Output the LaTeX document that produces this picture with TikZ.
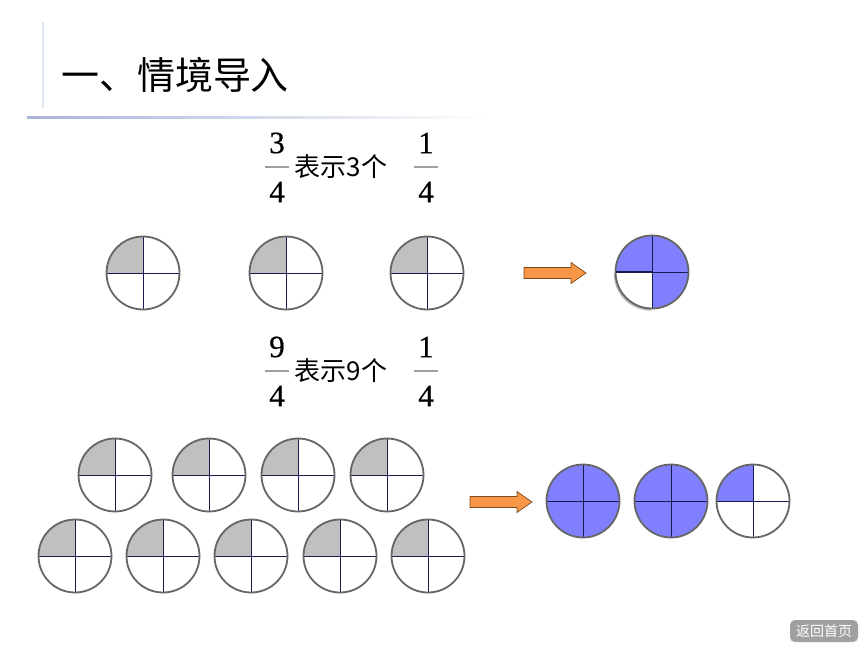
\documentclass[tikz,border=0pt]{standalone}
\usepackage{fontspec}
\setmainfont{Liberation Serif}
\newfontfamily\cjk{Noto Sans CJK SC}
\newfontfamily\digitfont[FakeBold=0.6]{Liberation Serif}
\usetikzlibrary{shadings,calc}
\definecolor{shadeq}{HTML}{C0C0C0}
\definecolor{blueq}{HTML}{8080FF}
\definecolor{rimc}{HTML}{666666}
\definecolor{crossc}{HTML}{1A1A50}
\definecolor{arrowfill}{HTML}{F79646}
\definecolor{arrowline}{HTML}{7F4A1E}
\definecolor{rulec}{HTML}{A8B4D8}
\definecolor{vrulec}{HTML}{DDE4F4}
\definecolor{btnc}{HTML}{A0A0A0}
\tikzset{
  rim/.style={draw=rimc, line width=1.8pt},
  crossline/.style={draw=crossc, line width=0.9pt},
  orangearrow/.style={fill=arrowfill, draw=arrowline, line width=0.7pt},
  cjktext/.style={font=\cjk\fontsize{26}{30}\selectfont, inner sep=0pt},
  digit/.style={font=\digitfont\fontsize{31}{34}\selectfont, inner sep=0pt},
  fracbar/.style={draw=gray!75, line width=1.1pt},
}
% #1 name, #2 center, #3 TL, #4 TR, #5 BR, #6 BL fills
\newcommand{\qcirc}[6]{%
  \coordinate (#1) at (#2);
  \fill[#3] (#1) -- ++(-36.5,0) arc[start angle=180,end angle=90,radius=36.5] -- cycle;
  \fill[#4] (#1) -- ++(0,36.5) arc[start angle=90,end angle=0,radius=36.5] -- cycle;
  \fill[#5] (#1) -- ++(36.5,0) arc[start angle=0,end angle=-90,radius=36.5] -- cycle;
  \fill[#6] (#1) -- ++(0,-36.5) arc[start angle=270,end angle=180,radius=36.5] -- cycle;
  \draw[crossline] ($(#1)+(-36.5,0)$) -- ($(#1)+(36.5,0)$);
  \draw[crossline] ($(#1)+(0,36.5)$) -- ($(#1)+(0,-36.5)$);
  \draw[rim] (#1) circle[radius=36.5];
}
\newcommand{\farrow}[4]{% #1 name, #2 x left, #3 x tip, #4 y center
  \coordinate (#1) at (#3,#4);
  \draw[orangearrow] (#2,#4+5.5) -- (#3-15,#4+5.5) -- (#3-15,#4+10.5) -- (#1)
     -- (#3-15,#4-10.5) -- (#3-15,#4-5.5) -- (#2,#4-5.5) -- cycle;
}
\newcommand{\frc}[4]{% #1 name, #2 x, #3 y of bar, #4 numerator
  \node[digit] (#1n) at (#2,#3+24) {#4};
  \node[digit] (#1d) at (#2,#3-25) {4};
  \coordinate (#1l) at (#2-12,#3);
  \coordinate (#1r) at (#2+12,#3);
  \draw[fracbar] (#1l) -- (#1r);
}
\begin{document}
\begin{tikzpicture}[x=1pt,y=1pt]
\useasboundingbox (0,0) rectangle (860,-645);
\fill[white] (0,0) rectangle (860,-645);
% decorations
\coordinate (vt) at (43,-22);
\coordinate (vb) at (43,-108);
\draw[vrulec, line width=2pt] (vt) -- (vb);
\shade[left color=rulec, right color=white] (27,-116) rectangle (490,-118.5);
% title
\node[font=\cjk\fontsize{38}{42}\selectfont, inner sep=0pt] (title) at (175,-75) {一、情境导入};
% row 1 text
\frc{fa}{277}{-167}{3}
\node[cjktext] (t1) at (341,-167) {表示3个};
\frc{fb}{426}{-167}{1}
% row 1 circles
\qcirc{c1}{143,-273}{shadeq}{white}{white}{white}
\qcirc{c2}{286,-273}{shadeq}{white}{white}{white}
\qcirc{c3}{427,-273}{shadeq}{white}{white}{white}
\farrow{a1}{524}{586}{-273}
\draw[gray!55, line width=2.5pt] (651,-273.5) ++(-36,0) arc[start angle=180,end angle=270,radius=36];
\qcirc{r1}{652,-272}{blueq}{blueq}{blueq}{white}
\draw[crossc, line width=1.6pt] (r1) -- ++(-36.5,0);
% row 2 text
\frc{fc}{277}{-371}{9}
\node[cjktext] (t2) at (341,-371) {表示9个};
\frc{fd}{426}{-371}{1}
% row 2 circles
\qcirc{d1}{115,-475}{shadeq}{white}{white}{white}
\qcirc{d2}{209,-475}{shadeq}{white}{white}{white}
\qcirc{d3}{298,-475}{shadeq}{white}{white}{white}
\qcirc{d4}{387,-475}{shadeq}{white}{white}{white}
\qcirc{e1}{75,-556}{shadeq}{white}{white}{white}
\qcirc{e2}{163,-556}{shadeq}{white}{white}{white}
\qcirc{e3}{251,-556}{shadeq}{white}{white}{white}
\qcirc{e4}{340,-556}{shadeq}{white}{white}{white}
\qcirc{e5}{428,-556}{shadeq}{white}{white}{white}
\farrow{a2}{470}{532}{-502}
\qcirc{s1}{583,-501}{blueq}{blueq}{blueq}{blueq}
\qcirc{s2}{671,-501}{blueq}{blueq}{blueq}{blueq}
\qcirc{s3}{753,-501}{blueq}{white}{white}{white}
% button
\node[fill=btnc, rounded corners=5pt, minimum width=68pt, minimum height=22pt, inner sep=0pt,
      text=white, font=\cjk\fontsize{14}{16}\selectfont] (btn) at (824,-631) {返回首页};
\end{tikzpicture}
\end{document}
